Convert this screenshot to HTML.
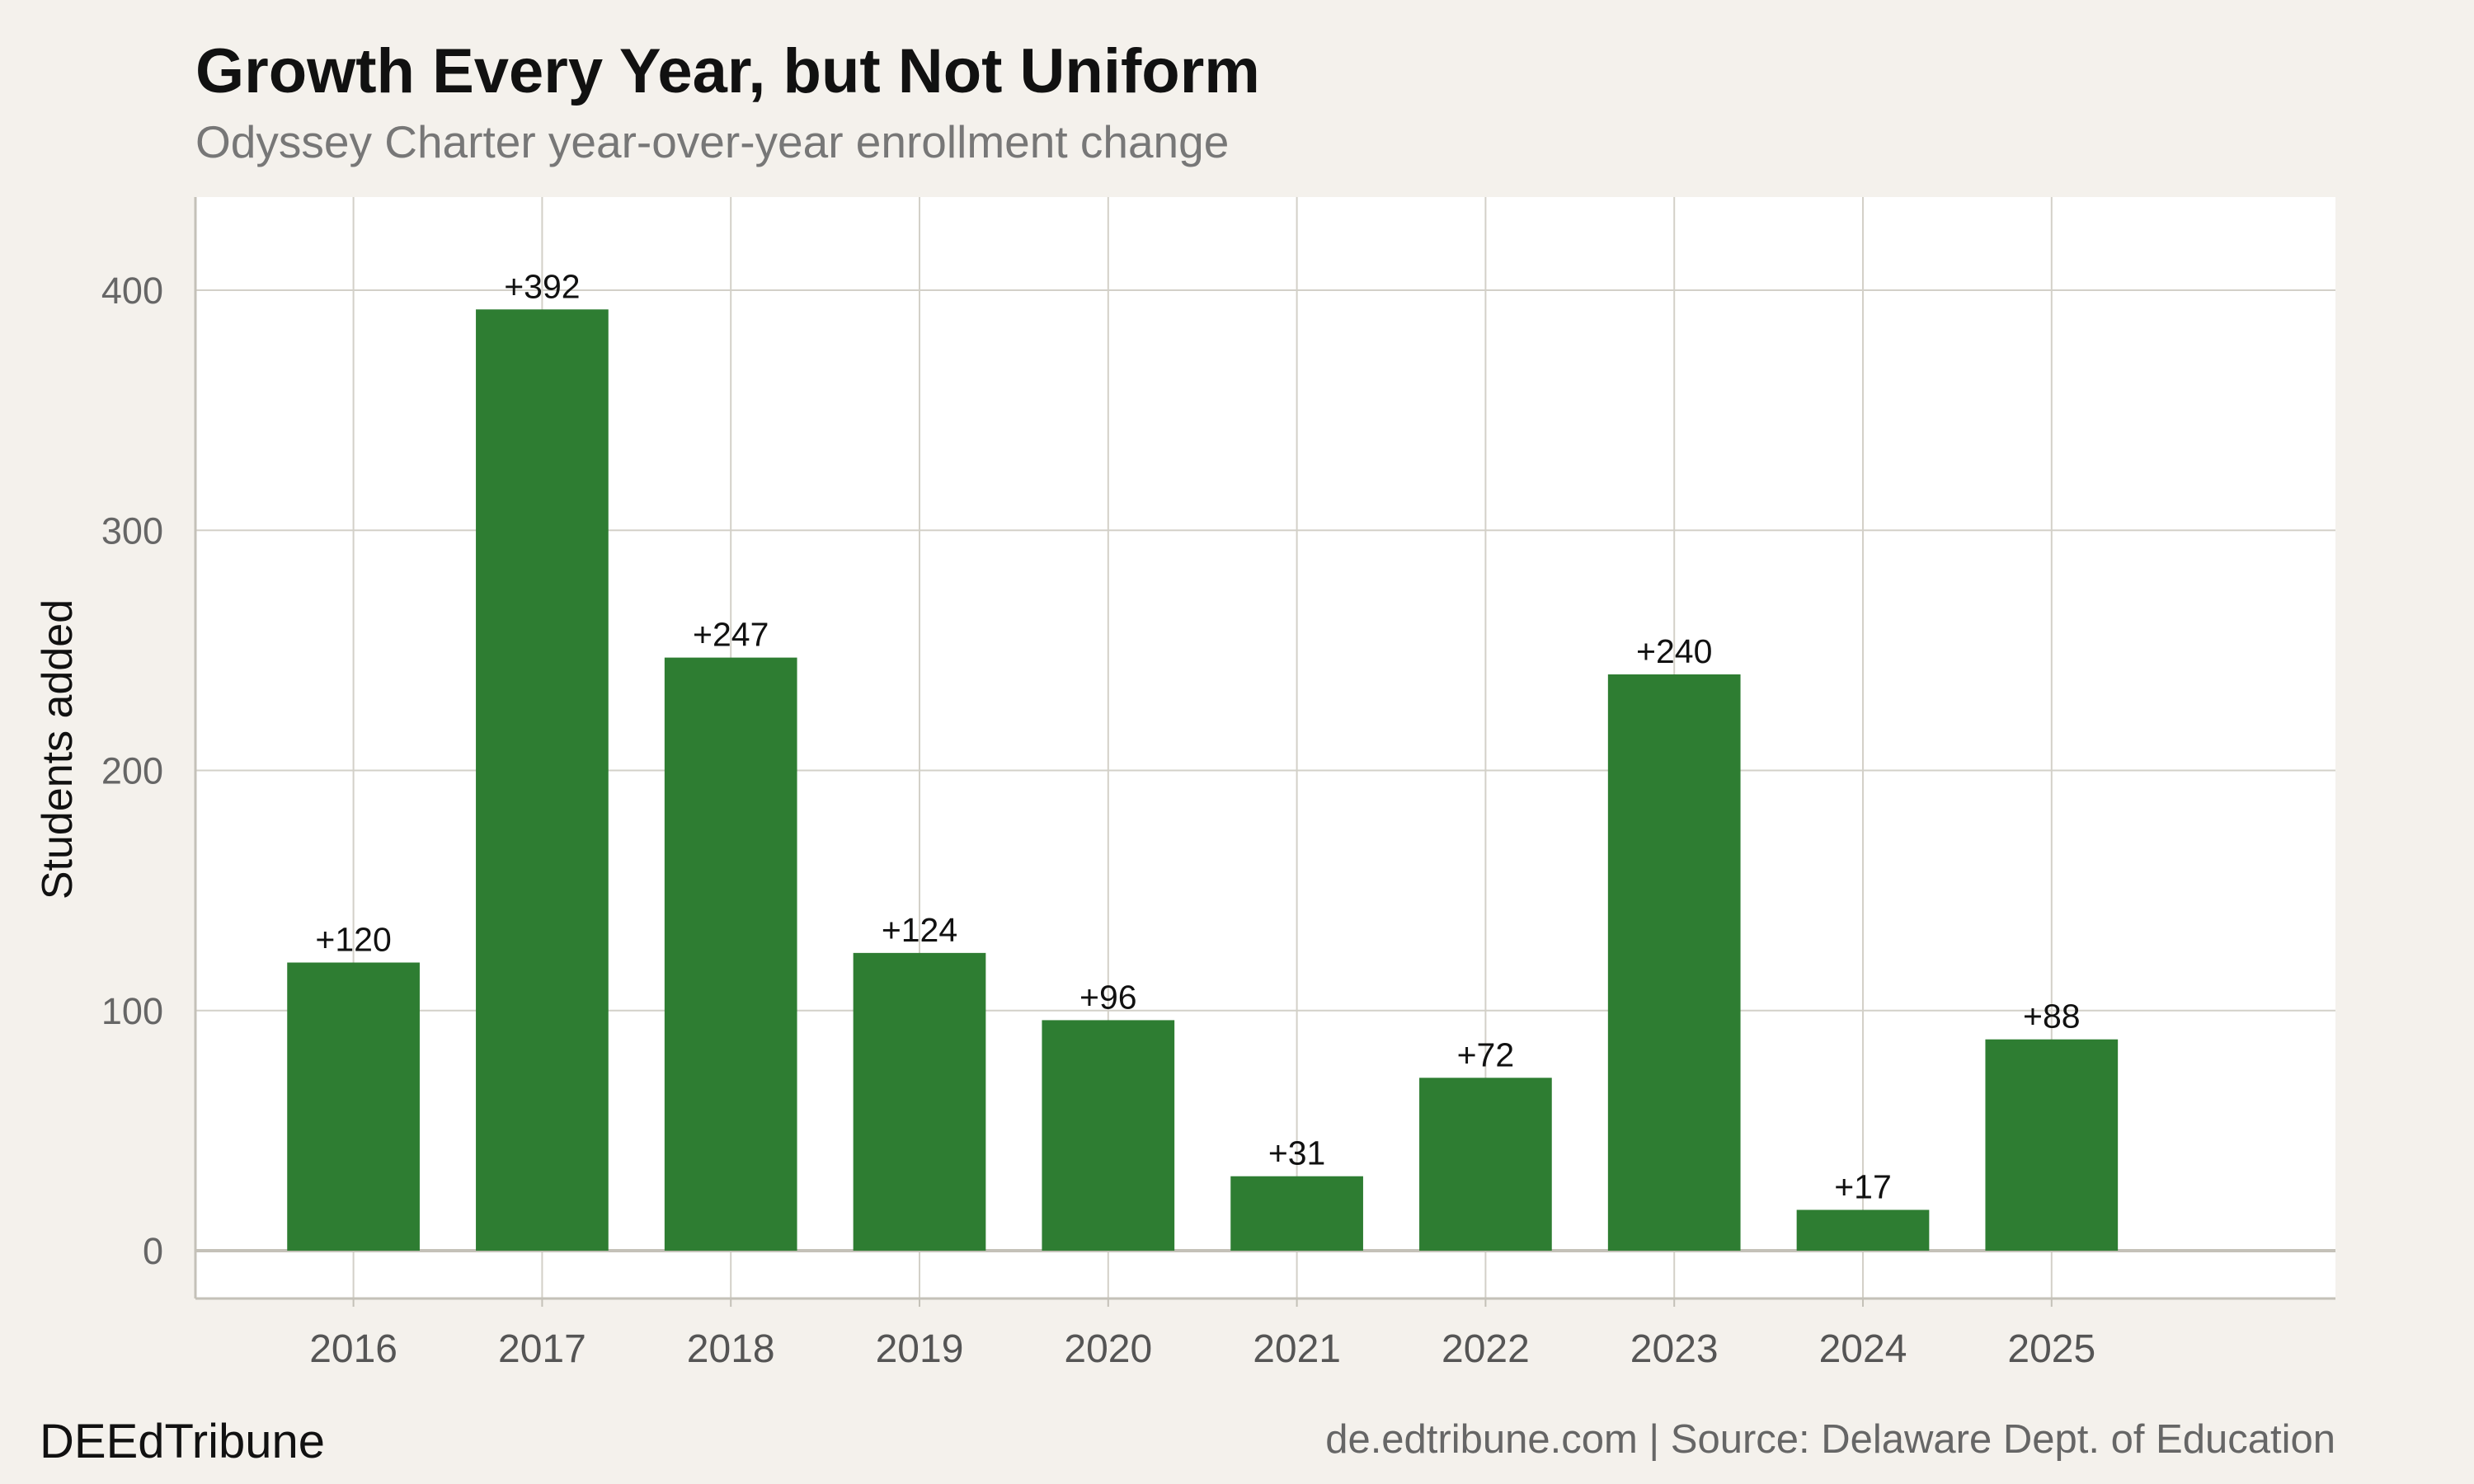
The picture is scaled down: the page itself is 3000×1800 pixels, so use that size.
<!DOCTYPE html>
<html><head><meta charset="utf-8"><style>
html,body{margin:0;padding:0;background:#f4f1ec;}
svg{display:block;font-family:"Liberation Sans",Arial,sans-serif;}
</style></head><body>
<svg id="chart" width="3000" height="1800" viewBox="0 0 3000 1800">
<rect x="0" y="0" width="3000" height="1800" fill="#f4f1ec"/>
<text x="237" y="112" font-size="76" font-weight="bold" fill="#111">Growth Every Year, but Not Uniform</text>
<text x="237" y="191" font-size="55" fill="#777">Odyssey Charter year-over-year enrollment change</text>
<rect x="237" y="239" width="2595" height="1336" fill="#ffffff"/>
<g id="grid"></g>
<g id="bars"></g>
<g id="labels"></g>
<g id="yticks"></g>
<g id="xticks"></g>
<text transform="translate(87,909) rotate(-90)" text-anchor="middle" font-size="52" fill="#111">Students added</text>
<text x="48" y="1768" font-size="58" fill="#111">DEEdTribune</text>
<text x="2832" y="1762" text-anchor="end" font-size="49" fill="#666">de.edtribune.com | Source: Delaware Dept. of Education</text>
</svg>
<script>
const categories = ["2016","2017","2018","2019","2020","2021","2022","2023","2024","2025"];
const values = [120,392,247,124,96,31,72,240,17,88];
const yTicks = [0,100,200,300,400];

const NS="http://www.w3.org/2000/svg";
const panelL=237, panelR=2832, panelT=239, panelB=1575;
const y0=1517, pxPer=(1517-352)/400;
const yScale=v=>y0-v*pxPer;
const step=228.8, x0=428.6, bw=160.7;
const xScale=i=>x0+i*step;
function mk(tag,attrs,parent){const e=document.createElementNS(NS,tag);for(const k in attrs)e.setAttribute(k,attrs[k]);parent.appendChild(e);return e;}
const grid=document.getElementById('grid'),bars=document.getElementById('bars'),labels=document.getElementById('labels'),yt=document.getElementById('yticks'),xt=document.getElementById('xticks');
yTicks.forEach(t=>{
  const l=mk('line',{x1:panelL,x2:panelR,y1:yScale(t),y2:yScale(t),stroke:'#d3d0c8','stroke-width':2},grid);
  
  
  const tx=mk('text',{x:198,y:yScale(t)+16,'text-anchor':'end','font-size':45,fill:'#666'},yt);
  tx.textContent=t;
  
  
});
categories.forEach((c,i)=>{
  const l=mk('line',{x1:xScale(i),x2:xScale(i),y1:panelT,y2:panelB,stroke:'#d3d0c8','stroke-width':2},grid);
  
  
});
mk('line',{x1:panelL,x2:panelR,y1:y0,y2:y0,stroke:'#c4c1b8','stroke-width':4},grid);
mk('line',{x1:panelL,x2:panelR,y1:panelB,y2:panelB,stroke:'#c4c1b8','stroke-width':3},grid);
mk('line',{x1:panelL,x2:panelL,y1:panelT,y2:panelB,stroke:'#c4c1b8','stroke-width':3},grid);
categories.forEach((c,i)=>{
  const v=values[i];
  const r=mk('rect',{x:xScale(i)-bw/2,y:yScale(v),width:bw,height:y0-yScale(v),fill:'#2e7d32'},bars);
  
  
  const lb=mk('text',{x:xScale(i),y:yScale(v)-14,'text-anchor':'middle','font-size':41,fill:'#111'},labels);
  lb.textContent='+'+v;
  
  
  mk('line',{x1:xScale(i),x2:xScale(i),y1:panelB,y2:panelB+10,stroke:'#c4c1b8','stroke-width':2},xt);
  const tx=mk('text',{x:xScale(i),y:1652,'text-anchor':'middle','font-size':48,fill:'#555'},xt);
  tx.textContent=c;
  
  
});
</script>
</body></html>
